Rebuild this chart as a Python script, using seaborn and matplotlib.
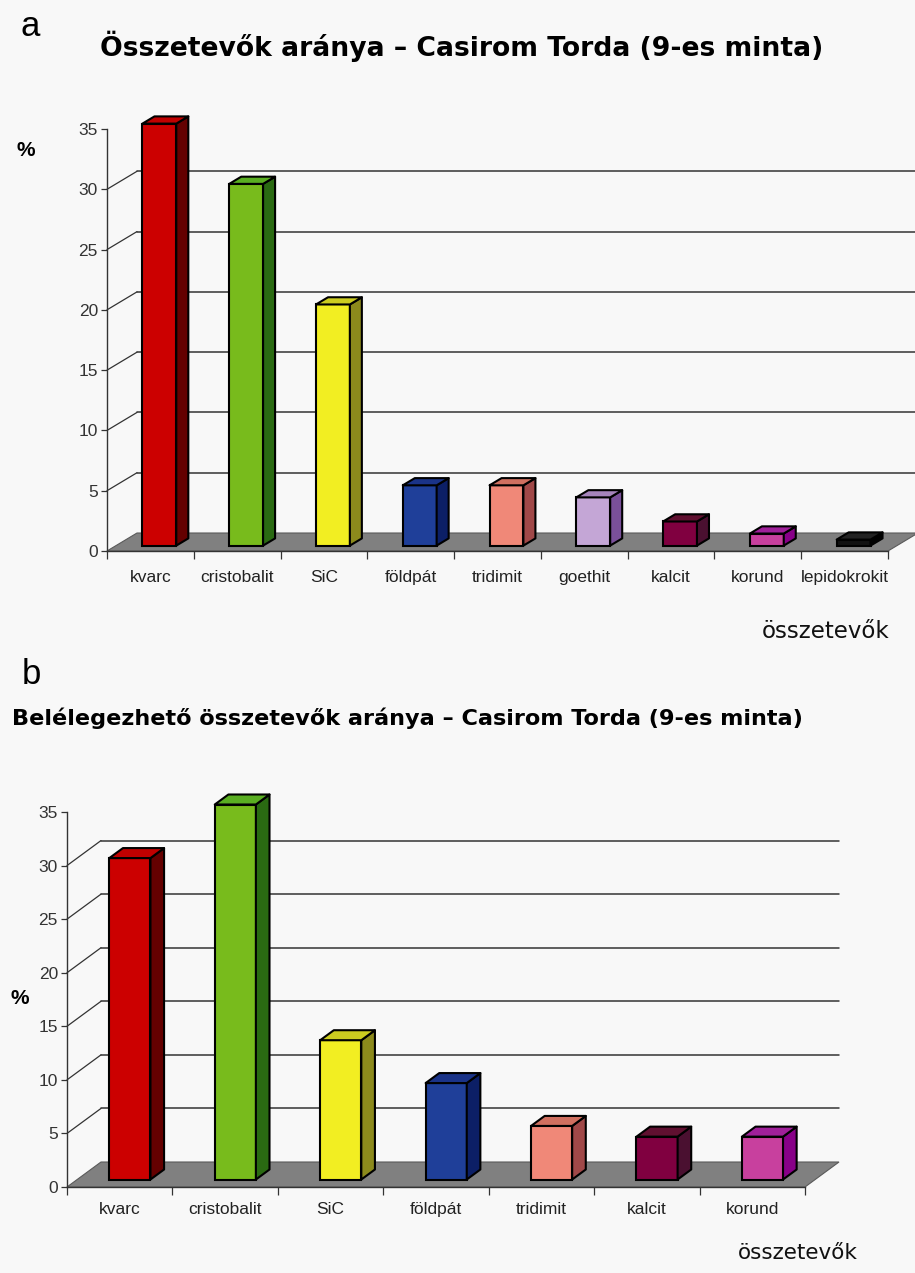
import matplotlib
matplotlib.use("Agg")
import matplotlib.pyplot as plt
from matplotlib.patches import Polygon
import seaborn as sns

# ---- data -------------------------------------------------------------
categories_a = ["kvarc", "cristobalit", "SiC", "földpát", "tridimit",
                "goethit", "kalcit", "korund", "lepidokrokit"]
values_a = [35, 30, 20, 5, 5, 4, 2, 1, 0.5]

categories_b = ["kvarc", "cristobalit", "SiC", "földpát", "tridimit",
                "kalcit", "korund"]
values_b = [30, 35, 13, 9, 5, 4, 4]

y_ticks = [0, 5, 10, 15, 20, 25, 30, 35]

# front / side / top face colours per mineral
front_col = {
    "kvarc": "#cc0000", "cristobalit": "#78bb1c", "SiC": "#f2ee22",
    "földpát": "#1f3f99", "tridimit": "#f08878", "goethit": "#c4a6d6",
    "kalcit": "#800040", "korund": "#c8409e", "lepidokrokit": "#111111",
}
side_col = {
    "kvarc": "#640000", "cristobalit": "#2a6a12", "SiC": "#8c8a1c",
    "földpát": "#0c1f66", "tridimit": "#a04848", "goethit": "#7a509a",
    "kalcit": "#4a1030", "korund": "#880088", "lepidokrokit": "#000000",
}
top_col = {
    "kvarc": "#c00000", "cristobalit": "#5aae22", "SiC": "#cccc20",
    "földpát": "#1a3388", "tridimit": "#d07060", "goethit": "#a684bc",
    "kalcit": "#601030", "korund": "#a0209a", "lepidokrokit": "#222222",
}

# ---- figure -----------------------------------------------------------
W, H = 915, 1273
BG = "#f8f8f8"
sns.set_style("white")
plt.rcParams["font.family"] = ["Liberation Sans", "DejaVu Sans"]
fig = plt.figure(figsize=(W / 100, H / 100), dpi=100, facecolor=BG)


def fpos(x, y):
    return x / W, 1 - y / H


def add_axes_px(left, right, top, bottom):
    return fig.add_axes([left / W, 1 - bottom / H, (right - left) / W, (bottom - top) / H])


def draw_panel(ax, cats, vals, depth_px, label_pad):
    n = len(cats)
    ymax = 35
    sns.barplot(x=cats, y=vals, hue=cats, palette=[front_col[c] for c in cats],
                width=0.39, saturation=1, legend=False, ax=ax,
                edgecolor="black", linewidth=1.5, zorder=4)
    bars = [bar for cont in ax.containers for bar in cont]
    bars = sorted(bars, key=lambda p: p.get_x())
    ax.set_xlim(-0.5, n - 0.5)
    ax.set_ylim(0, ymax)
    ax.set_facecolor("none")

    # depth of the 3-D box expressed in data units
    ddx = depth_px[0] / ax.bbox.width * n
    ddy = depth_px[1] / ax.bbox.height * ymax
    x_lo, x_hi = -0.5, n - 0.5

    # floor
    ax.add_patch(Polygon([(x_lo, 0), (x_hi, 0), (x_hi + ddx, ddy), (x_lo + ddx, ddy)],
                         closed=True, facecolor="#808080", edgecolor="#5a5a5a",
                         linewidth=0.8, clip_on=False, zorder=1))
    # back-wall gridlines and their links to the value axis
    for v in y_ticks[1:-1]:
        ax.plot([x_lo + ddx, x_hi + ddx], [v + ddy, v + ddy], color="#333333",
                lw=1.1, clip_on=False, zorder=0.5)
        ax.plot([x_lo, x_lo + ddx], [v, v + ddy], color="#333333",
                lw=0.9, clip_on=False, zorder=0.5)

    # bars: move into the floor depth and add side + top faces
    f0, fd = 0.3, 0.4
    for cat, b in zip(cats, bars):
        x0 = b.get_x() + f0 * ddx
        y0 = f0 * ddy
        b.set_x(x0)
        b.set_y(y0)
        b.set_clip_on(False)
        x1 = x0 + b.get_width()
        y1 = y0 + b.get_height()
        dx, dy = fd * ddx, fd * ddy
        ax.add_patch(Polygon([(x1, y0), (x1 + dx, y0 + dy), (x1 + dx, y1 + dy), (x1, y1)],
                             closed=True, facecolor=side_col[cat], edgecolor="black",
                             linewidth=1.5, joinstyle="round", clip_on=False, zorder=4))
        ax.add_patch(Polygon([(x0, y1), (x0 + dx, y1 + dy), (x1 + dx, y1 + dy), (x1, y1)],
                             closed=True, facecolor=top_col[cat], edgecolor="black",
                             linewidth=1.5, joinstyle="round", clip_on=False, zorder=4))

    for s in ("top", "right"):
        ax.spines[s].set_visible(False)
    for s in ("left", "bottom"):
        ax.spines[s].set_color("#333333")
        ax.spines[s].set_linewidth(1.0)
        ax.spines[s].set_zorder(2)

    ax.set_yticks(y_ticks)
    ax.set_yticklabels([str(t) for t in y_ticks])
    ax.tick_params(axis="y", direction="out", length=4.5, width=0.9, color="#333333",
                   pad=2, labelsize=12.5, labelcolor="#333333", left=True)
    ax.set_xticks(range(n))
    ax.set_xticklabels(cats)
    ax.set_xticks([i - 0.5 for i in range(n + 1)], minor=True)
    ax.tick_params(axis="x", which="major", length=0, pad=label_pad,
                   labelsize=12.5, labelcolor="#222222")
    ax.tick_params(axis="x", which="minor", direction="out", length=6, width=0.9,
                   color="#333333", bottom=True)
    ax.set_xlabel("")
    ax.set_ylabel("")


# panel a
ax_a = add_axes_px(107, 888, 129, 551)
draw_panel(ax_a, categories_a, values_a, (30, 18), 14)

# panel b
ax_b = add_axes_px(67, 805, 812, 1187)
draw_panel(ax_b, categories_b, values_b, (34, 25), 11)

# text
wide = ["DejaVu Sans"]
fig.text(*fpos(20, 26), "a", fontsize=25, ha="left", va="center", color="black")
fig.text(*fpos(100, 46), "Összetevők aránya – Casirom Torda (9-es minta)",
         fontsize=19.2, fontweight="bold", family=wide, ha="left", va="center",
         color="black")
fig.text(*fpos(26, 151), "%", fontsize=15, fontweight="bold", ha="center", va="center",
         color="black")
fig.text(*fpos(826, 632), "összetevők", fontsize=16.5, family=wide, ha="center",
         va="center", color="#111111")

fig.text(*fpos(22, 675), "b", fontsize=25, ha="left", va="center", color="black")
fig.text(*fpos(12, 718), "Belélegezhető összetevők aránya – Casirom Torda (9-es minta)",
         fontsize=16.1, fontweight="bold", family=wide, ha="left", va="center",
         color="black")
fig.text(*fpos(20, 999), "%", fontsize=15, fontweight="bold", ha="center", va="center",
         color="black")
fig.text(*fpos(798, 1253), "összetevők", fontsize=15.5, family=wide, ha="center",
         va="center", color="#111111")

fig.savefig("out.png", dpi=100, facecolor=BG)
